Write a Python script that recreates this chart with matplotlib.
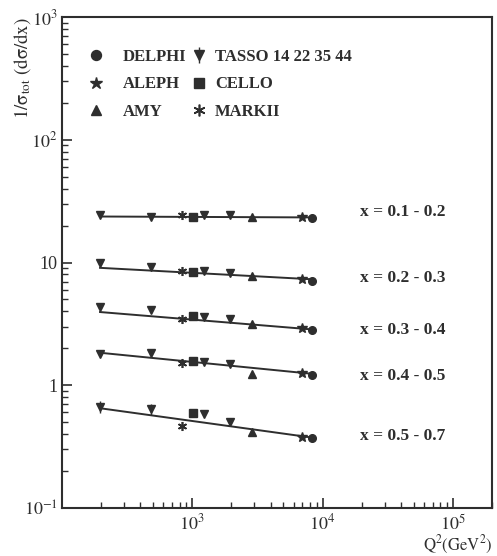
import numpy as np
import matplotlib
matplotlib.use("Agg")
import matplotlib.pyplot as plt
from matplotlib.ticker import FixedLocator, LogLocator, NullFormatter

plt.rcParams['font.family'] = ['Liberation Serif', 'DejaVu Serif']
plt.rcParams['mathtext.fontset'] = 'stix'

# Q^2 (GeV^2) of each experiment
q2_tasso = [196, 484, 1225, 1936]
q2_markii = 841
q2_cello = 1020
q2_amy = 2880
q2_aleph = 7000
q2_delphi = 8300

bins = ["x = 0.1 - 0.2", "x = 0.2 - 0.3", "x = 0.3 - 0.4", "x = 0.4 - 0.5", "x = 0.5 - 0.7"]

# 1/sigma dsigma/dx, one row per x bin
tasso = [[24.6, 23.5, 24.2, 24.2],
         [9.9, 9.2, 8.6, 8.2],
         [4.36, 4.1, 3.6, 3.45],
         [1.79, 1.84, 1.54, 1.48],
         [0.67, 0.64, 0.58, 0.50]]
tasso_err = [[0, 0, 0, 0],
             [0, 0, 0, 0],
             [0, 0, 0, 0],
             [0, 0.12, 0, 0],
             [0.08, 0.07, 0, 0]]
markii = [24.2, 8.5, 3.45, 1.51, 0.47]
cello = [23.5, 8.4, 3.7, 1.57, 0.59]
amy = [23.3, 7.7, 3.17, 1.24, 0.42]
aleph = [23.5, 7.3, 2.95, 1.27, 0.38]
delphi = [23.1, 7.1, 2.82, 1.21, 0.37]

# fitted lines, value at first and last Q^2
fit_q2 = [196, 8300]
fit_lo = [23.7, 9.05, 3.95, 1.84, 0.65]
fit_hi = [23.3, 7.3, 2.85, 1.24, 0.375]

ink = '#2e2e2e'
fig = plt.figure(figsize=(4.97, 5.56), dpi=100)
ax = fig.add_axes([0.1247, 0.0863, 0.8653, 0.8831])
ax.set_xscale('log')
ax.set_yscale('log')
ax.set_xlim(100, 2.0e5)
ax.set_ylim(0.1, 1000)

ms = 5.5
for i in range(len(bins)):
    ax.plot(fit_q2, [fit_lo[i], fit_hi[i]], color=ink, lw=1.4, zorder=1)
    ax.errorbar(q2_tasso, tasso[i], yerr=tasso_err[i], fmt='v', color=ink, ms=ms,
                elinewidth=1, capsize=0, label='TASSO 14 22 35 44' if i == 0 else None)
    ax.plot(q2_markii, markii[i], marker=(6, 2, 0), color=ink, ms=ms + 1, mew=1.2, ls='none',
            label='MARKII' if i == 0 else None)
    ax.plot(q2_cello, cello[i], 's', color=ink, ms=ms, ls='none',
            label='CELLO' if i == 0 else None)
    ax.plot(q2_amy, amy[i], '^', color=ink, ms=ms, ls='none',
            label='AMY' if i == 0 else None)
    ax.plot(q2_aleph, aleph[i], '*', color=ink, ms=ms + 1.5, ls='none',
            label='ALEPH' if i == 0 else None)
    ax.plot(q2_delphi, delphi[i], 'o', color=ink, ms=ms, ls='none',
            label='DELPHI' if i == 0 else None)

label_y = [0.603, 0.468, 0.362, 0.269, 0.147]
for txt, yy in zip(bins, label_y):
    ax.text(0.693, yy, txt, transform=ax.transAxes, fontsize=12.5, fontweight='bold',
            color=ink, va='center')

# legend in two separate columns
h, l = ax.get_legend_handles_labels()
d = dict(zip(l, h))
col1 = ['DELPHI', 'ALEPH', 'AMY']
col2 = ['TASSO 14 22 35 44', 'CELLO', 'MARKII']
legs = []
for names, xa, pad in [(col1, 0.025, 1.1), (col2, 0.265, 0.45)]:
    lg = ax.legend([d[k] for k in names], names, loc='upper left',
                   bbox_to_anchor=(xa, 0.966), frameon=False,
                   prop={'size': 12, 'weight': 'bold'},
                   handlelength=1.0, handletextpad=pad,
                   labelspacing=0.7, markerscale=1.3)
    for t in lg.get_texts():
        t.set_color(ink)
    legs.append(lg)
ax.add_artist(legs[0])

ax.xaxis.set_major_locator(FixedLocator([1e3, 1e4, 1e5]))
ax.set_xticklabels([r'$10^{3}$', r'$10^{4}$', r'$10^{5}$'])
ax.xaxis.set_minor_locator(LogLocator(base=10, subs=np.arange(2, 10)))
ax.xaxis.set_minor_formatter(NullFormatter())
ax.yaxis.set_major_locator(FixedLocator([0.1, 1, 10, 100, 1000]))
ax.set_yticklabels([r'$10^{-1}$', '1', '10', r'$10^{2}$', r'$10^{3}$'])
ax.yaxis.set_minor_locator(LogLocator(base=10, subs=np.arange(2, 10)))
ax.yaxis.set_minor_formatter(NullFormatter())
ax.tick_params(which='both', direction='in', color=ink, labelcolor=ink, labelsize=13)
ax.tick_params(which='major', length=7, width=1.2)
ax.tick_params(which='minor', length=4, width=1)
ax.tick_params(axis='x', pad=4)
ax.tick_params(axis='y', pad=3)
for s in ax.spines.values():
    s.set_linewidth(1.5)
    s.set_color(ink)

ax.set_ylabel(r'$\mathrm{1/\sigma_{tot}\ (d\sigma/dx)}$', fontsize=13.5, color=ink)
ax.yaxis.set_label_coords(-0.068, 0.895)
ax.text(1.0, -0.097, r'$\mathrm{Q^2(GeV^2)}$', transform=ax.transAxes, ha='right',
        va='bottom', fontsize=12, color=ink)

fig.savefig('out.png', dpi=100)
